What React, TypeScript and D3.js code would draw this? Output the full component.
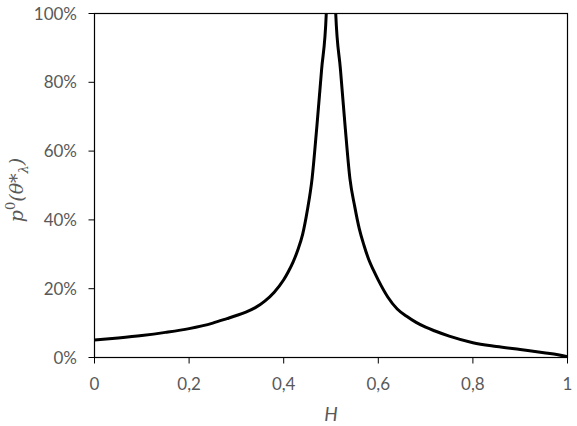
import React from "react";
import * as d3 from "d3";

const hValues = [0, 0.05, 0.1, 0.15, 0.2, 0.25, 0.28, 0.3, 0.32, 0.34, 0.36, 0.38, 0.4, 0.41, 0.42, 0.43, 0.44, 0.45, 0.46, 0.47, 0.48, 0.49, 0.5, 0.51, 0.52, 0.53, 0.54, 0.55, 0.56, 0.57, 0.58, 0.59, 0.6, 0.62, 0.64, 0.66, 0.68, 0.7, 0.72, 0.75, 0.8, 0.85, 0.9, 0.95, 0.98, 1];
const pValues = [5.1, 5.7, 6.4, 7.3, 8.4, 10.0, 11.3, 12.2, 13.2, 14.5, 16.4, 19.0, 22.6, 25.0, 27.8, 31.3, 35.8, 42.8, 52.0, 67.0, 83.5, 100, 150, 100, 83.7, 67.0, 52.0, 44.0, 37.3, 32.5, 28.4, 25.3, 22.5, 17.6, 14.1, 12.0, 10.2, 8.8, 7.7, 6.2, 4.3, 3.2, 2.3, 1.4, 0.8, 0.2];
const xTicks = [0, 0.2, 0.4, 0.6, 0.8, 1];
const xTickLabels = ["0", "0,2", "0,4", "0,6", "0,8", "1"];
const yTicks = [0, 20, 40, 60, 80, 100];
const yTickLabels = ["0%", "20%", "40%", "60%", "80%", "100%"];

const W = 577;
const H = 426;
const left = 94.5;
const right = 567.5;
const top = 13.5;
const bottom = 357.5;

export default function App() {
  const x = d3.scaleLinear().domain([0, 1]).range([left, right]);
  const y = d3.scaleLinear().domain([0, 100]).range([bottom, top]);
  const data = hValues.map((h, i) => [h, pValues[i]] as [number, number]);
  const line = d3
    .line<[number, number]>()
    .x((d) => x(d[0]))
    .y((d) => y(d[1]))
    .curve(d3.curveMonotoneX);
  const tickFont = "Lato, 'Open Sans', sans-serif";
  const gray = "#595959";
  return (
    <svg width={W} height={H} style={{ position: "absolute", left: 0, top: 0, background: "#fff" }}>
      <defs>
        <clipPath id="plotclip">
          <rect x={left} y={top} width={right - left} height={bottom - top} />
        </clipPath>
      </defs>
      <rect x={0} y={0} width={W} height={H} fill="#fff" />
      <path d={line(data) || ""} fill="none" stroke="#000" strokeWidth={3} strokeLinejoin="round" clipPath="url(#plotclip)" />
      <rect x={left} y={top} width={right - left} height={bottom - top} fill="none" stroke="#000" strokeWidth={1.2} />
      {yTicks.map((t, i) => (
        <g key={"y" + i}>
          <line x1={left - 6} x2={left} y1={y(t)} y2={y(t)} stroke="#000" strokeWidth={1} />
          <text x={77} y={y(t)} dy="0.36em" textAnchor="end" fontFamily={tickFont} fontSize={17} fill={gray}>
            {yTickLabels[i]}
          </text>
        </g>
      ))}
      {xTicks.map((t, i) => (
        <g key={"x" + i}>
          <line x1={x(t)} x2={x(t)} y1={bottom} y2={bottom + 6} stroke="#000" strokeWidth={1} />
          <text x={x(t)} y={390} textAnchor="middle" fontFamily={tickFont} fontSize={17} fill={gray}>
            {xTickLabels[i]}
          </text>
        </g>
      ))}
      <text x={(left + right) / 2} y={421} textAnchor="middle" fontFamily={tickFont} fontStyle="italic" fontSize={19} fill={gray}>
        H
      </text>
      <text
        transform={`translate(23, 190) rotate(-90)`}
        textAnchor="middle"
        fontFamily="'DejaVu Serif', 'Liberation Serif', serif"
        fontStyle="italic"
        fontSize={19}
        fill={gray}
      >
        <tspan>p</tspan>
        <tspan dy={-8} fontSize={13} fontStyle="normal">0</tspan>
        <tspan dy={8}>(θ*</tspan>
        <tspan dy={5} fontSize={13}>λ</tspan>
        <tspan dy={-5}>)</tspan>
      </text>
    </svg>
  );
}
